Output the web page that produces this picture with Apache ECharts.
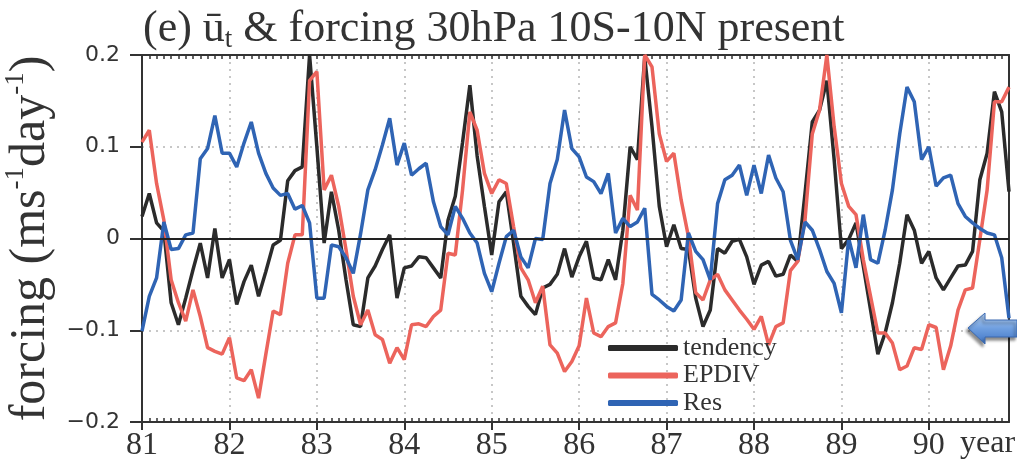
<!DOCTYPE html>
<html>
<head>
<meta charset="utf-8">
<script src="https://cdn.jsdelivr.net/npm/echarts@6/dist/echarts.min.js"></script>
<style>
  html, body { margin: 0; background: #fff; }
  #chart { width: 1017px; height: 465px; }
</style>
</head>
<body>
<div id="chart"></div>
<script>
const years = [81, 82, 83, 84, 85, 86, 87, 88, 89, 90];

// monthly values, Jan 81 .. Dec 90
const tendency = [
  0.024, 0.049, 0.017, 0.008, -0.070, -0.094, -0.065, -0.034, -0.005, -0.043, 0.011, -0.043,
  -0.023, -0.072, -0.047, -0.029, -0.063, -0.036, -0.007, -0.002, 0.063, 0.074, 0.078, 0.200,
  0.100, -0.005, 0.051, 0.009, -0.045, -0.094, -0.096, -0.043, -0.030, -0.012, 0.004, -0.065,
  -0.032, -0.030, -0.020, -0.021, -0.032, -0.043, 0.020, 0.046, 0.105, 0.167, 0.090, 0.035,
  -0.018, 0.040, 0.051, -0.005, -0.063, -0.074, -0.083, -0.054, -0.050, -0.039, -0.011, -0.042,
  -0.020, -0.003, -0.043, -0.045, -0.023, -0.045, 0.009, 0.100, 0.086, 0.198, 0.122, 0.035,
  -0.009, 0.015, -0.011, -0.012, -0.065, -0.096, -0.078, -0.011, -0.016, -0.003, -0.001, -0.020,
  -0.050, -0.029, -0.025, -0.041, -0.039, -0.018, -0.025, 0.049, 0.127, 0.140, 0.172, 0.086,
  -0.011, -0.001, 0.017, -0.030, -0.078, -0.126, -0.103, -0.070, -0.027, 0.026, 0.009, -0.027,
  -0.014, -0.043, -0.056, -0.043, -0.030, -0.029, -0.014, 0.064, 0.093, 0.160, 0.138, 0.051,
];

const epdiv = [
  0.105, 0.118, 0.060, 0.020, -0.045, -0.070, -0.090, -0.056, -0.085, -0.119, -0.123, -0.126,
  -0.108, -0.152, -0.155, -0.143, -0.174, -0.126, -0.079, -0.083, -0.027, 0.004, 0.004, 0.172,
  0.182, 0.053, 0.069, 0.035, -0.012, -0.063, -0.094, -0.078, -0.105, -0.110, -0.136, -0.119,
  -0.132, -0.094, -0.093, -0.096, -0.085, -0.078, -0.016, -0.018, 0.053, 0.138, 0.118, 0.071,
  0.049, 0.064, 0.060, 0.013, -0.032, -0.045, -0.070, -0.052, -0.116, -0.125, -0.145, -0.134,
  -0.117, -0.065, -0.103, -0.107, -0.096, -0.092, -0.049, 0.047, 0.031, 0.200, 0.187, 0.114,
  0.084, 0.093, 0.042, 0.002, -0.059, -0.067, -0.045, -0.039, -0.056, -0.067, -0.078, -0.088,
  -0.099, -0.085, -0.116, -0.096, -0.092, -0.035, -0.025, 0.020, 0.114, 0.140, 0.200, 0.122,
  0.060, 0.035, 0.026, -0.023, -0.063, -0.103, -0.103, -0.114, -0.143, -0.139, -0.119, -0.121,
  -0.094, -0.097, -0.143, -0.117, -0.078, -0.056, -0.054, -0.001, 0.053, 0.149, 0.149, 0.165,
];

const residual = [
  -0.101, -0.063, -0.043, 0.018, -0.012, -0.011, 0.004, 0.006, 0.087, 0.098, 0.134, 0.093,
  0.093, 0.078, 0.104, 0.127, 0.093, 0.071, 0.055, 0.047, 0.049, 0.032, 0.036, 0.017,
  -0.065, -0.065, -0.007, -0.009, -0.021, -0.038, 0.005, 0.053, 0.075, 0.102, 0.131, 0.080,
  0.104, 0.069, 0.076, 0.082, 0.040, 0.013, 0.004, 0.035, 0.022, 0.006, -0.005, -0.038,
  -0.058, -0.027, 0.002, 0.009, -0.020, -0.032, 0.000, -0.001, 0.060, 0.086, 0.140, 0.098,
  0.089, 0.067, 0.062, 0.049, 0.071, 0.006, 0.022, 0.013, 0.018, 0.033, -0.061, -0.067,
  -0.074, -0.079, -0.067, 0.006, -0.014, -0.023, -0.045, 0.038, 0.064, 0.069, 0.080, 0.047,
  0.080, 0.049, 0.091, 0.066, 0.051, -0.002, -0.023, 0.018, 0.009, -0.012, -0.036, -0.049,
  -0.081, 0.000, -0.032, 0.026, -0.023, -0.027, 0.009, 0.053, 0.114, 0.165, 0.149, 0.086,
  0.100, 0.057, 0.066, 0.069, 0.038, 0.024, 0.017, 0.011, 0.006, 0.004, -0.021, -0.087,
];

// time stamps (year + month/12)
const months = [];
years.forEach((y) => {
  for (let m = 0; m < 12; m++) months.push(y + m / 12);
});
const xMin = months[0];
const xMax = months[months.length - 1];
const withTime = (vals) => vals.map((v, i) => [months[i], v]);

const AXIS = "#333";
const SERIF = "'Liberation Serif', 'Times New Roman', serif";
const GRID_LINE = { color: "#b5b5b5", width: 1.5, type: [2, 5] };

const chart = echarts.init(document.getElementById("chart"), null, { renderer: "canvas" });

const minorAxis = (position) => ({
  type: "value",
  position,
  min: xMin,
  max: xMax,
  interval: 1 / 12,
  axisLine: { show: position === "top", onZero: false, lineStyle: { color: AXIS, width: 2 } },
  axisTick: { inside: true, length: 4, lineStyle: { color: AXIS, width: 1.5 } },
  axisLabel: { show: false },
  splitLine: { show: false },
});

chart.setOption({
  animation: false,
  title: {
    left: 138,
    top: -2,
    text: "{m|(e) ū}{s|t}{m| & forcing 30hPa 10S-10N present}",
    textStyle: {
      rich: {
        m: { fontFamily: SERIF, fontSize: 44, fontWeight: "normal", color: "#333", lineHeight: 52 },
        s: { fontFamily: SERIF, fontSize: 27, fontWeight: "normal", color: "#333", lineHeight: 27, verticalAlign: "bottom", padding: [0, 0, 2, 0] },
      },
    },
  },
  grid: { left: 142, right: 8, top: 55, bottom: 43, outerBoundsMode: "none" },
  legend: {
    orient: "vertical",
    left: 603,
    top: 330,
    itemWidth: 70,
    itemHeight: 6,
    itemGap: 1.5,
    icon: "roundRect",
    textStyle: { fontFamily: SERIF, fontSize: 26, color: "#333", lineHeight: 26 },
    data: ["tendency", "EPDIV", "Res"],
  },
  xAxis: [
    {
      type: "value",
      position: "bottom",
      min: xMin,
      max: xMax,
      interval: 1,
      axisLine: { onZero: false, lineStyle: { color: AXIS, width: 2 } },
      axisTick: { length: 8, lineStyle: { color: AXIS, width: 2 } },
      axisLabel: {
        showMaxLabel: false,
        fontFamily: SERIF,
        fontSize: 32,
        color: "#333",
        margin: 8,
        formatter: (v) => (Number.isInteger(v) ? String(v) : ""),
      },
      splitLine: { show: true, lineStyle: GRID_LINE },
    },
    minorAxis("top"),
    minorAxis("bottom"),
  ],
  yAxis: [
    {
      type: "value",
      position: "left",
      min: -0.2,
      max: 0.2,
      interval: 0.1,
      name: "{m|forcing (ms}{s|-1}{m|day}{s|-1}{m|)}",
      nameLocation: "middle",
      nameRotate: 90,
      nameGap: 80,
      nameTextStyle: {
        rich: {
          m: { fontFamily: SERIF, fontSize: 50, color: "#333", lineHeight: 56 },
          s: { fontFamily: SERIF, fontSize: 27, color: "#333", lineHeight: 27, verticalAlign: "top" },
        },
      },
      axisLine: { show: true, onZero: false, lineStyle: { color: AXIS, width: 2 } },
      axisTick: { length: 12, lineStyle: { color: AXIS, width: 2 } },
      axisLabel: {
        fontFamily: "'DejaVu Sans', sans-serif",
        fontSize: 22,
        color: "#333",
        margin: 22,
        formatter: (v) => {
          const r = Math.round(v * 10) / 10;
          return r === 0 ? "0" : r.toFixed(1).replace("-", "\u2212");
        },
      },
      splitLine: { show: true, lineStyle: GRID_LINE },
    },
    {
      type: "value",
      position: "right",
      min: -0.2,
      max: 0.2,
      interval: 0.1,
      axisLine: { show: true, onZero: false, lineStyle: { color: AXIS, width: 2 } },
      axisTick: { show: false },
      axisLabel: { show: false },
      splitLine: { show: false },
    },
  ],
  series: [
    {
      name: "tendency",
      type: "line",
      data: withTime(tendency),
      showSymbol: false,
      color: "#2b2b2b",
      lineStyle: { width: 3.5, color: "#2b2b2b" },
      emphasis: { disabled: true },
      markLine: {
        silent: true,
        symbol: "none",
        label: { show: false },
        lineStyle: { color: "#222", width: 2, type: "solid" },
        data: [{ yAxis: 0 }],
      },
    },
    {
      name: "EPDIV",
      type: "line",
      data: withTime(epdiv),
      showSymbol: false,
      color: "#ec645c",
      lineStyle: { width: 3.5, color: "#ec645c" },
      emphasis: { disabled: true },
    },
    {
      name: "Res",
      type: "line",
      data: withTime(residual),
      showSymbol: false,
      color: "#2f64b4",
      lineStyle: { width: 3.5, color: "#2f64b4" },
      emphasis: { disabled: true },
    },
  ],
  graphic: [
    {
      type: "text",
      left: 960,
      top: 428,
      style: { text: "year", font: "32px " + SERIF, fill: "#333" },
    },
    {
      type: "polygon",
      z: 100,
      shape: {
        points: [
          [968, 328], [985, 313], [985, 320], [1017, 320],
          [1017, 337], [985, 337], [985, 344],
        ],
      },
      style: {
        fill: new echarts.graphic.LinearGradient(0, 0, 0, 1, [
          { offset: 0, color: "#b7d2f2" },
          { offset: 0.5, color: "#6f9fe0" },
          { offset: 1, color: "#3f74c4" },
        ]),
        stroke: "#3a69b0",
        lineWidth: 1,
        shadowBlur: 3,
        shadowOffsetX: -2,
        shadowOffsetY: 3,
        shadowColor: "rgba(0,0,0,0.45)",
      },
    },
  ],
});
</script>
</body>
</html>
